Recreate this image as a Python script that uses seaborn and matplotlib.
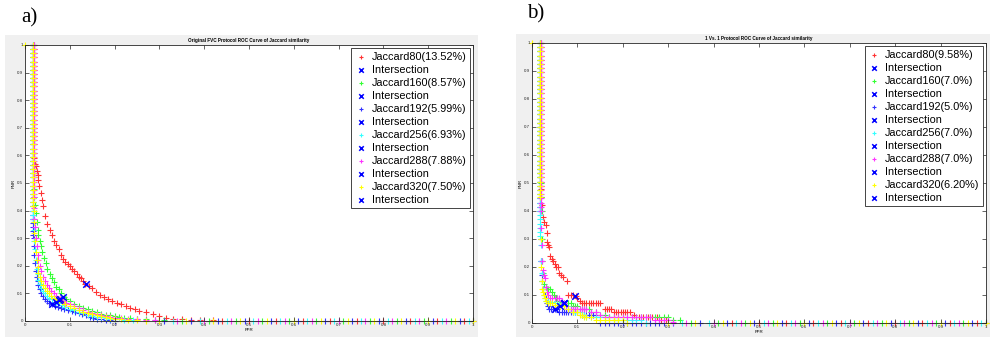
import matplotlib
matplotlib.use("Agg")
import matplotlib.pyplot as plt
from matplotlib.patches import Rectangle
import seaborn as sns
import pandas as pd

# ---------------- data ----------------
TICKS = [0, 0.1, 0.2, 0.3, 0.4, 0.5, 0.6, 0.7, 0.8, 0.9, 1]
TICK_LABELS = ["0", "0.1", "0.2", "0.3", "0.4", "0.5", "0.6", "0.7", "0.8", "0.9", "1"]

TITLE_A = "Original FVC Protocol ROC Curve of Jaccard similarity"
TITLE_B = "1 Vs. 1 Protocol ROC Curve of Jaccard similarity"

SERIES_NAMES = ["Jaccard80", "Jaccard160", "Jaccard192", "Jaccard256", "Jaccard288", "Jaccard320"]
EER_A = [13.52, 8.57, 5.99, 6.93, 7.88, 7.50]
EER_A_TXT = ["13.52%", "8.57%", "5.99%", "6.93%", "7.88%", "7.50%"]
EER_B = [9.58, 7.0, 5.0, 7.0, 7.0, 6.20]
EER_B_TXT = ["9.58%", "7.0%", "5.0%", "7.0%", "7.0%", "6.20%"]

# vertical part of every curve (FNR values at FPR ~ 0.018)
HEAD_FNR = [1.00, 0.985, 0.97, 0.955, 0.94, 0.925, 0.91, 0.895, 0.88, 0.865, 0.85,
            0.835, 0.82, 0.805, 0.79, 0.775, 0.76, 0.745, 0.73, 0.715, 0.70, 0.685,
            0.67, 0.655, 0.64, 0.625, 0.61, 0.595, 0.58, 0.565, 0.55, 0.535, 0.52,
            0.505, 0.49, 0.475, 0.46, 0.445, 0.43, 0.415, 0.40, 0.385, 0.37, 0.355,
            0.34, 0.325, 0.31]
HEAD_FPR = [0.019, 0.018, 0.017, 0.018, 0.019, 0.018]

# flat part of every curve (FPR values at FNR = 0)
TAIL_R = [0.44, 0.50, 0.56, 0.62, 0.68, 0.74, 0.80, 0.86, 0.92, 0.98]
TAIL_G = [0.35, 0.41, 0.47, 0.53, 0.59, 0.65, 0.71, 0.77, 0.83, 0.89, 0.95, 1.00]
TAIL_B = [0.31, 0.37, 0.43, 0.49, 0.55, 0.61, 0.67, 0.73, 0.79, 0.85, 0.91, 0.97]
TAIL_C = [0.33, 0.39, 0.45, 0.51, 0.57, 0.63, 0.69, 0.75, 0.81, 0.87, 0.93, 0.99]
TAIL_M = [0.34, 0.40, 0.46, 0.52, 0.58, 0.64, 0.70, 0.76, 0.82, 0.88, 0.94, 1.00]
TAIL_Y = [0.30, 0.36, 0.42, 0.48, 0.54, 0.60, 0.66, 0.72, 0.78, 0.84, 0.90, 0.96, 1.00]
TAILS = [TAIL_R, TAIL_G, TAIL_B, TAIL_C, TAIL_M, TAIL_Y]

# ---- panel a: bending part of the curves (FPR, FNR) ----
A_80 = [(0.019, 0.64), (0.020, 0.61), (0.021, 0.59), (0.022, 0.57), (0.024, 0.56),
        (0.026, 0.545), (0.028, 0.53), (0.030, 0.51), (0.032, 0.49), (0.035, 0.465),
        (0.038, 0.44), (0.041, 0.415), (0.045, 0.38), (0.050, 0.35), (0.055, 0.33),
        (0.060, 0.31), (0.065, 0.29), (0.070, 0.275), (0.075, 0.26), (0.080, 0.24),
        (0.085, 0.225), (0.090, 0.215), (0.095, 0.205), (0.100, 0.20), (0.105, 0.19),
        (0.110, 0.18), (0.115, 0.17), (0.120, 0.16), (0.125, 0.155), (0.130, 0.145),
        (0.135, 0.135), (0.142, 0.128), (0.150, 0.12), (0.158, 0.105), (0.168, 0.094),
        (0.176, 0.088), (0.185, 0.08), (0.195, 0.072), (0.205, 0.065), (0.215, 0.06),
        (0.225, 0.055), (0.235, 0.048), (0.245, 0.042), (0.255, 0.038), (0.270, 0.032),
        (0.285, 0.025), (0.300, 0.018), (0.315, 0.012), (0.330, 0.009), (0.350, 0.006),
        (0.370, 0.004), (0.390, 0.003), (0.420, 0.002)]
A_160 = [(0.019, 0.52), (0.020, 0.48), (0.021, 0.45), (0.022, 0.42), (0.024, 0.39),
         (0.026, 0.36), (0.028, 0.33), (0.030, 0.31), (0.033, 0.29), (0.036, 0.27),
         (0.039, 0.25), (0.042, 0.23), (0.046, 0.21), (0.050, 0.19), (0.055, 0.17),
         (0.060, 0.155), (0.065, 0.14), (0.070, 0.125), (0.075, 0.115), (0.080, 0.10),
         (0.086, 0.086), (0.092, 0.08), (0.100, 0.072), (0.110, 0.063), (0.120, 0.055),
         (0.130, 0.048), (0.140, 0.042), (0.150, 0.036), (0.160, 0.031), (0.170, 0.027),
         (0.180, 0.023), (0.190, 0.020), (0.200, 0.017), (0.210, 0.014), (0.220, 0.012),
         (0.235, 0.010), (0.250, 0.008), (0.270, 0.006), (0.290, 0.004), (0.310, 0.002)]
A_192 = [(0.019, 0.30), (0.020, 0.27), (0.021, 0.24), (0.022, 0.21), (0.024, 0.18),
         (0.026, 0.16), (0.028, 0.145), (0.030, 0.13), (0.033, 0.115), (0.036, 0.102),
         (0.040, 0.09), (0.044, 0.08), (0.049, 0.072), (0.054, 0.066), (0.060, 0.060),
         (0.066, 0.056), (0.073, 0.052), (0.080, 0.048), (0.088, 0.044), (0.096, 0.040),
         (0.104, 0.036), (0.112, 0.032), (0.120, 0.028), (0.128, 0.024), (0.136, 0.020),
         (0.144, 0.016), (0.152, 0.012), (0.160, 0.009), (0.170, 0.006), (0.180, 0.004),
         (0.190, 0.002), (0.200, 0.001)]
A_256 = [(0.019, 0.36), (0.020, 0.33), (0.021, 0.29), (0.022, 0.26), (0.024, 0.22),
         (0.026, 0.19), (0.028, 0.17), (0.030, 0.15), (0.033, 0.135), (0.036, 0.12),
         (0.040, 0.11), (0.044, 0.10), (0.049, 0.092), (0.054, 0.085), (0.060, 0.078),
         (0.069, 0.069), (0.075, 0.064), (0.082, 0.058), (0.090, 0.052), (0.100, 0.045),
         (0.110, 0.039), (0.120, 0.033), (0.130, 0.028), (0.140, 0.023), (0.150, 0.019),
         (0.160, 0.016), (0.170, 0.013), (0.180, 0.010), (0.190, 0.008), (0.200, 0.006),
         (0.220, 0.004), (0.240, 0.002)]
A_288 = [(0.019, 0.45), (0.020, 0.41), (0.021, 0.37), (0.022, 0.34), (0.024, 0.30),
         (0.026, 0.27), (0.028, 0.24), (0.030, 0.22), (0.033, 0.20), (0.036, 0.18),
         (0.040, 0.16), (0.044, 0.145), (0.048, 0.13), (0.053, 0.12), (0.058, 0.11),
         (0.064, 0.10), (0.070, 0.092), (0.079, 0.079), (0.085, 0.073), (0.092, 0.067),
         (0.100, 0.060), (0.110, 0.053), (0.120, 0.046), (0.130, 0.040), (0.140, 0.034),
         (0.150, 0.029), (0.160, 0.025), (0.170, 0.021), (0.180, 0.018), (0.190, 0.015),
         (0.200, 0.012), (0.215, 0.010), (0.230, 0.008), (0.250, 0.006), (0.270, 0.004),
         (0.290, 0.002)]
A_320 = [(0.0, 1.0), (0.019, 0.40), (0.020, 0.36), (0.021, 0.32), (0.022, 0.29),
         (0.024, 0.25), (0.026, 0.22), (0.028, 0.195), (0.030, 0.175), (0.033, 0.16),
         (0.036, 0.145), (0.040, 0.13), (0.044, 0.12), (0.048, 0.11), (0.053, 0.10),
         (0.058, 0.092), (0.064, 0.085), (0.070, 0.079), (0.075, 0.075), (0.082, 0.068),
         (0.090, 0.061), (0.100, 0.053), (0.110, 0.046), (0.120, 0.040), (0.130, 0.034),
         (0.140, 0.029), (0.150, 0.024), (0.160, 0.020), (0.170, 0.017), (0.180, 0.014),
         (0.190, 0.011), (0.200, 0.009), (0.215, 0.007), (0.230, 0.005), (0.250, 0.003),
         (0.270, 0.001)]

# ---- panel b: bending part of the curves (FPR, FNR) ----
B_80 = [(0.019, 0.48), (0.020, 0.45), (0.021, 0.42), (0.024, 0.38), (0.027, 0.36),
        (0.030, 0.35), (0.032, 0.32), (0.034, 0.29), (0.036, 0.28), (0.038, 0.27),
        (0.040, 0.24), (0.043, 0.23), (0.046, 0.22), (0.050, 0.21), (0.053, 0.20),
        (0.057, 0.20), (0.060, 0.18), (0.064, 0.17), (0.068, 0.165), (0.076, 0.15),
        (0.080, 0.10), (0.085, 0.10), (0.090, 0.10), (0.096, 0.096), (0.100, 0.09),
        (0.105, 0.08), (0.110, 0.07), (0.115, 0.07), (0.120, 0.07), (0.125, 0.07),
        (0.130, 0.07), (0.135, 0.07), (0.140, 0.07), (0.145, 0.07), (0.150, 0.07),
        (0.160, 0.05), (0.165, 0.05), (0.170, 0.05), (0.175, 0.05), (0.180, 0.04),
        (0.185, 0.04), (0.190, 0.04), (0.195, 0.04), (0.200, 0.04), (0.205, 0.04),
        (0.210, 0.04), (0.215, 0.04), (0.225, 0.03), (0.235, 0.02), (0.245, 0.02),
        (0.255, 0.02), (0.265, 0.02), (0.275, 0.02), (0.285, 0.01), (0.295, 0.01)]
B_160 = [(0.019, 0.50), (0.020, 0.45), (0.021, 0.40), (0.022, 0.30), (0.023, 0.22),
         (0.025, 0.18), (0.027, 0.14), (0.030, 0.13), (0.033, 0.12), (0.036, 0.12),
         (0.040, 0.12), (0.044, 0.11), (0.048, 0.10), (0.052, 0.09), (0.056, 0.08),
         (0.060, 0.08), (0.065, 0.075), (0.070, 0.07), (0.075, 0.07), (0.080, 0.07),
         (0.085, 0.07), (0.090, 0.06), (0.095, 0.06), (0.100, 0.06), (0.105, 0.05),
         (0.110, 0.05), (0.115, 0.05), (0.120, 0.05), (0.125, 0.05), (0.130, 0.04),
         (0.140, 0.04), (0.150, 0.03), (0.160, 0.03), (0.170, 0.02), (0.180, 0.02),
         (0.190, 0.02), (0.200, 0.02), (0.210, 0.02), (0.220, 0.02), (0.230, 0.02),
         (0.240, 0.02), (0.250, 0.02), (0.260, 0.02), (0.270, 0.02), (0.280, 0.02),
         (0.290, 0.02), (0.300, 0.02), (0.310, 0.01), (0.325, 0.01)]
B_192 = [(0.018, 0.40), (0.019, 0.30), (0.020, 0.22), (0.021, 0.17), (0.023, 0.15),
         (0.025, 0.12), (0.028, 0.10), (0.030, 0.09), (0.032, 0.07), (0.035, 0.06),
         (0.038, 0.05), (0.042, 0.05), (0.046, 0.05), (0.050, 0.05), (0.055, 0.05),
         (0.060, 0.04), (0.065, 0.04), (0.070, 0.04), (0.075, 0.04), (0.080, 0.04),
         (0.085, 0.04), (0.090, 0.04), (0.095, 0.04), (0.100, 0.04), (0.110, 0.03),
         (0.115, 0.03), (0.120, 0.03), (0.125, 0.03), (0.130, 0.03), (0.135, 0.03),
         (0.140, 0.03), (0.150, 0.0), (0.160, 0.0), (0.170, 0.0), (0.180, 0.0),
         (0.190, 0.0), (0.200, 0.0), (0.210, 0.0), (0.220, 0.0), (0.230, 0.0),
         (0.240, 0.0), (0.250, 0.0), (0.260, 0.0), (0.270, 0.0), (0.280, 0.0),
         (0.290, 0.0)]
B_256 = [(0.019, 0.28), (0.020, 0.22), (0.021, 0.18), (0.022, 0.15), (0.024, 0.12),
         (0.026, 0.10), (0.028, 0.09), (0.031, 0.08), (0.035, 0.08), (0.040, 0.075),
         (0.045, 0.075), (0.050, 0.07), (0.055, 0.07), (0.060, 0.07), (0.065, 0.07),
         (0.070, 0.07), (0.075, 0.06), (0.080, 0.05), (0.085, 0.05), (0.090, 0.04),
         (0.095, 0.04), (0.100, 0.04), (0.105, 0.04), (0.110, 0.03), (0.115, 0.03),
         (0.120, 0.02), (0.130, 0.02), (0.140, 0.02), (0.150, 0.02), (0.160, 0.02),
         (0.170, 0.02), (0.180, 0.01), (0.190, 0.01), (0.200, 0.01), (0.210, 0.01),
         (0.220, 0.01), (0.230, 0.01), (0.240, 0.01), (0.250, 0.0)]
B_288 = [(0.019, 0.40), (0.020, 0.34), (0.021, 0.28), (0.022, 0.22), (0.024, 0.19),
         (0.026, 0.17), (0.028, 0.16), (0.030, 0.13), (0.033, 0.11), (0.036, 0.10),
         (0.040, 0.09), (0.045, 0.09), (0.050, 0.09), (0.055, 0.09), (0.060, 0.09),
         (0.065, 0.08), (0.070, 0.07), (0.075, 0.06), (0.080, 0.05), (0.085, 0.05),
         (0.090, 0.05), (0.095, 0.05), (0.100, 0.05), (0.105, 0.05), (0.110, 0.05),
         (0.115, 0.05), (0.120, 0.05), (0.130, 0.04), (0.140, 0.04), (0.150, 0.03),
         (0.160, 0.02), (0.170, 0.02), (0.180, 0.02), (0.190, 0.02), (0.200, 0.02),
         (0.210, 0.02), (0.220, 0.02), (0.230, 0.02), (0.240, 0.02), (0.250, 0.02),
         (0.260, 0.02), (0.270, 0.01), (0.280, 0.01), (0.290, 0.01), (0.300, 0.01),
         (0.310, 0.005)]
B_320 = [(0.0, 1.0), (0.018, 0.45), (0.019, 0.30), (0.020, 0.20), (0.021, 0.15),
         (0.022, 0.12), (0.024, 0.11), (0.026, 0.10), (0.028, 0.09), (0.031, 0.08),
         (0.035, 0.07), (0.040, 0.07), (0.045, 0.07), (0.050, 0.065), (0.055, 0.065),
         (0.062, 0.062), (0.070, 0.06), (0.080, 0.05), (0.090, 0.04), (0.100, 0.04),
         (0.105, 0.03), (0.110, 0.03), (0.115, 0.02), (0.120, 0.02), (0.130, 0.02),
         (0.140, 0.01), (0.150, 0.01), (0.160, 0.01), (0.170, 0.01), (0.180, 0.01),
         (0.190, 0.01), (0.200, 0.01), (0.210, 0.0)]

CURVES_A = [A_80, A_160, A_192, A_256, A_288, A_320]
CURVES_B = [B_80, B_160, B_192, B_256, B_288, B_320]

COLORS = ["#ff3333", "#33ff33", "#3333ff", "#33ffff", "#ff33ff", "#ffff00"]
X_COLOR = "#0000ff"

# ---------------- drawing ----------------
FONT = ["Liberation Sans", "DejaVu Sans"]
plt.rcParams["font.family"] = FONT

fig = plt.figure(figsize=(9.9, 3.37), dpi=100)
fig.patch.set_facecolor("white")
W, H = 990, 337
# grey MATLAB figure backgrounds
fig.add_artist(Rectangle((5 / W, 0), 473 / W, 302 / H, transform=fig.transFigure,
                         facecolor="#f0f0f0", edgecolor="none", zorder=-10))
fig.add_artist(Rectangle((516 / W, 0), 474 / W, 303 / H, transform=fig.transFigure,
                         facecolor="#f0f0f0", edgecolor="none", zorder=-10))

ax_a = fig.add_axes([25 / W, 16 / H, 448 / W, 276 / H])
ax_b = fig.add_axes([532 / W, 14 / H, 454 / W, 280 / H])

fig.text(21 / W, 1 - 22 / H, "a)", family=["Liberation Serif", "DejaVu Serif"], fontsize=15)
fig.text(527 / W, 1 - 18 / H, "b)", family=["Liberation Serif", "DejaVu Serif"], fontsize=15)


def build_points(curve, i):
    pts = []
    first_fnr = max(f for x, f in curve if x > 0)
    for f in HEAD_FNR:
        if f > first_fnr:
            pts.append((HEAD_FPR[i], f))
    pts.extend(curve)
    last_fpr = max(x for x, f in curve)
    for x in TAILS[i]:
        if x > last_fpr + 0.01:
            pts.append((x, 0.0))
    return pd.DataFrame(pts, columns=["FPR", "FNR"])


def draw_panel(ax, curves, eers, eer_txt, title):
    ax.set_facecolor("white")
    for i, curve in enumerate(curves):
        df = build_points(curve, i)
        sns.scatterplot(data=df, x="FPR", y="FNR", marker="+", color=COLORS[i],
                        edgecolor=COLORS[i], facecolor=COLORS[i],
                        s=16, linewidth=0.8, ax=ax,
                        label=f"{SERIES_NAMES[i]}({eer_txt[i]})", clip_on=False)
        e = eers[i] / 100.0
        sns.scatterplot(x=[e], y=[e], marker="x", color=X_COLOR,
                        edgecolor=X_COLOR, facecolor=X_COLOR, s=22,
                        linewidth=1.1, ax=ax, label="Intersection", zorder=5)
    ax.set_xlim(0, 1)
    ax.set_ylim(0, 1)
    ax.set_xticks(TICKS)
    ax.set_xticklabels(TICK_LABELS)
    ax.set_yticks(TICKS)
    ax.set_yticklabels(TICK_LABELS)
    ax.tick_params(direction="in", top=True, right=True, length=3, width=0.5,
                   labelsize=3.2, pad=1.5, colors="#262626")
    for sp in ax.spines.values():
        sp.set_linewidth(0.6)
        sp.set_color("#262626")
    ax.set_xlabel("FPR", fontsize=3.2, labelpad=1)
    ax.set_ylabel("FNR", fontsize=3.2, labelpad=1)
    ax.set_title(title, fontsize=3.3, fontweight="bold", pad=2)
    leg = ax.legend(loc="upper right", fontsize=7.8, frameon=True, fancybox=False,
                    framealpha=1, edgecolor="#262626", borderaxespad=0.3,
                    labelspacing=0.28, handletextpad=0.4, handlelength=1.2,
                    borderpad=0.3, markerscale=0.7)
    leg.get_frame().set_linewidth(0.6)


draw_panel(ax_a, CURVES_A, EER_A, EER_A_TXT, TITLE_A)
draw_panel(ax_b, CURVES_B, EER_B, EER_B_TXT, TITLE_B)

fig.savefig("out.png", dpi=100)
